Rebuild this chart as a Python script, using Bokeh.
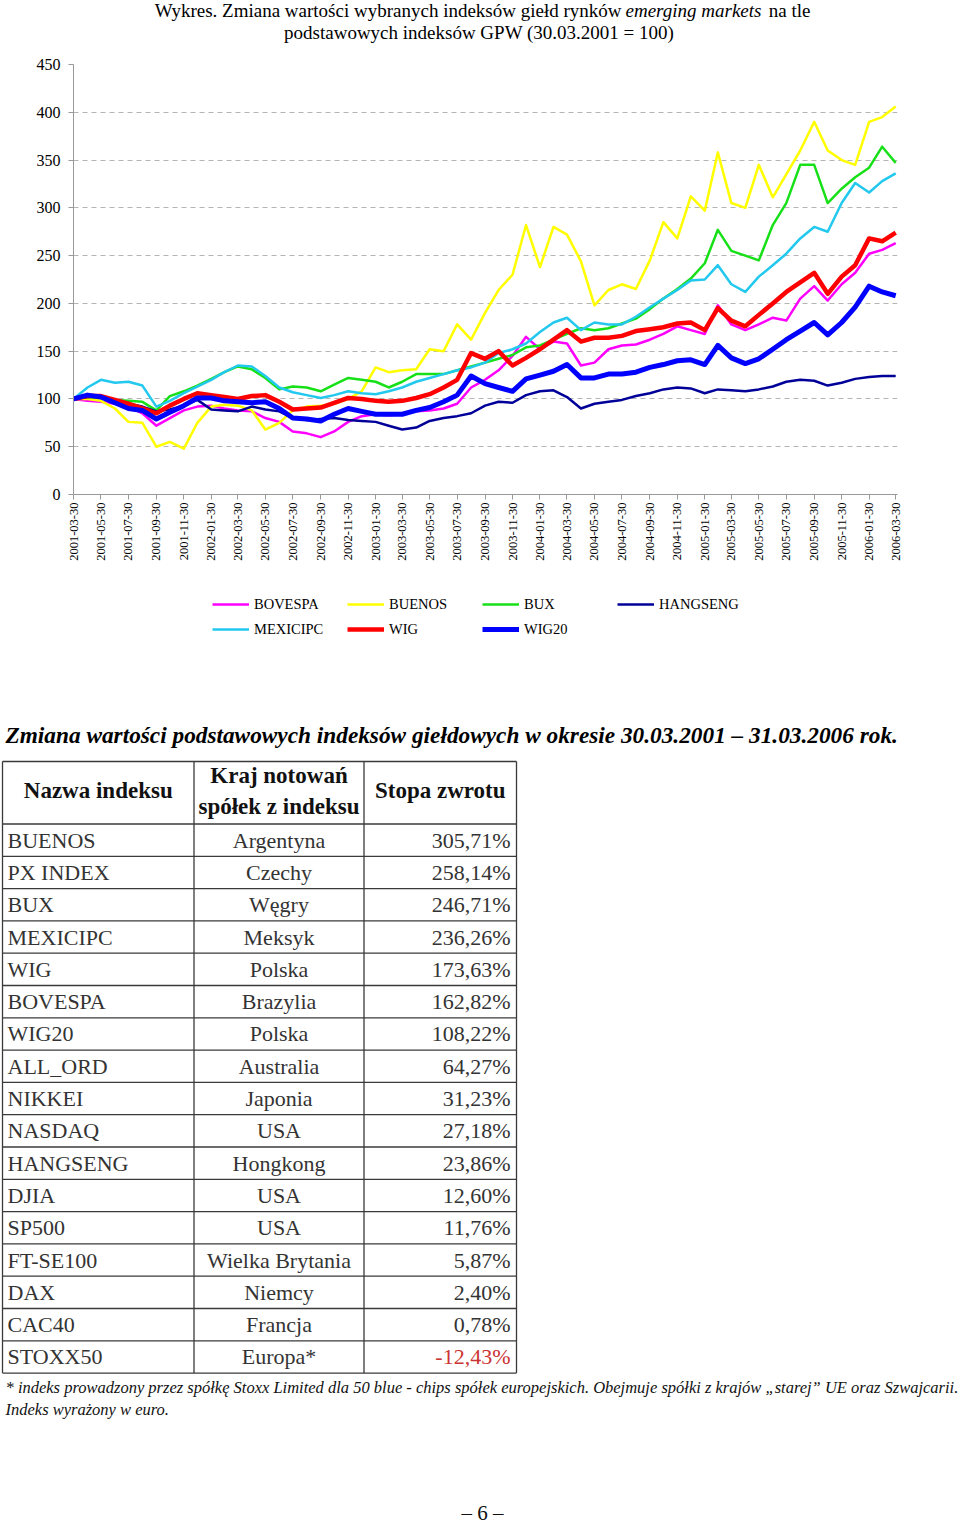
import numpy as np
import pandas as pd
from bokeh.plotting import figure
from bokeh.models import (Range1d, FixedTicker, DatetimeTickFormatter, Legend,
                          LegendItem, ColumnDataSource)
from bokeh.layouts import column
from bokeh.embed import file_html
from bokeh.resources import INLINE
from bokeh.core.properties import value

# ---------------- data ----------------
months = pd.period_range("2001-03", "2006-03", freq="M")
dates = [pd.Timestamp(m.year, m.month, min(30, m.days_in_month)) for m in months]

tick_labels = [
    "2001-03-30", "2001-05-30", "2001-07-30", "2001-09-30", "2001-11-30",
    "2002-01-30", "2002-03-30", "2002-05-30", "2002-07-30", "2002-09-30", "2002-11-30",
    "2003-01-30", "2003-03-30", "2003-05-30", "2003-07-30", "2003-09-30", "2003-11-30",
    "2004-01-30", "2004-03-30", "2004-05-30", "2004-07-30", "2004-09-30", "2004-11-30",
    "2005-01-30", "2005-03-30", "2005-05-30", "2005-07-30", "2005-09-30", "2005-11-30",
    "2006-01-30", "2006-03-30",
]
y_ticks = [0, 50, 100, 150, 200, 250, 300, 350, 400, 450]

bovespa = [100, 98, 97, 95, 92, 85, 72, 80, 88, 92,
           93, 90, 88, 87, 80, 76, 66, 64, 60, 66,
           76, 82, 84, 83, 84, 87, 88, 90, 95, 112,
           120, 130, 145, 165, 152, 160, 158, 135, 138, 152,
           156, 157, 162, 168, 176, 172, 168, 198, 178, 172,
           178, 185, 182, 205, 218, 203, 220, 232, 252, 256,
           263]
buenos = [100, 100, 98, 90, 76, 75, 50, 55, 48, 75,
          92, 94, 93, 88, 68, 75, 88, 92, 93, 95,
          100, 108, 133, 128, 130, 131, 152, 150, 178, 162,
          190, 214, 230, 282, 238, 280, 272, 244, 198, 214,
          220, 215, 245, 285, 268, 312, 297, 358, 305, 300,
          345, 311, 335, 360, 390, 360, 350, 345, 390, 395,
          406]
bux = [100, 102, 101, 99, 98, 97, 88, 103, 108, 114,
       121, 128, 134, 131, 122, 110, 113, 112, 108, 115,
       122, 120, 118, 112, 118, 126, 126, 126, 130, 134,
       138, 142, 146, 154, 156, 162, 168, 174, 172, 174,
       179, 184, 194, 205, 215, 226, 242, 277, 255, 250,
       245, 282, 305, 345, 345, 305, 320, 332, 342, 364,
       347]
hangseng = [100, 102, 103, 98, 95, 92, 87, 89, 93, 99,
            89, 88, 87, 92, 89, 87, 80, 78, 79, 80,
            78, 77, 76, 72, 68, 70, 77, 80, 82, 85,
            93, 97, 96, 104, 108, 109, 102, 90, 95, 97,
            99, 103, 106, 110, 112, 111, 106, 110, 109, 108,
            110, 113, 118, 120, 119, 114, 117, 121, 123, 124,
            124]
mexicipc = [100, 112, 120, 117, 118, 114, 92, 98, 106, 113,
            120, 128, 135, 134, 124, 112, 107, 104, 101, 104,
            108, 106, 105, 108, 112, 118, 122, 126, 130, 133,
            138, 148, 152, 158, 170, 180, 185, 172, 180, 178,
            178, 186, 196, 205, 214, 224, 225, 240, 220, 212,
            228, 240, 252, 268, 280, 275, 305, 326, 316, 328,
            336]
wig = [100, 103, 103, 99, 95, 90, 85, 93, 100, 106,
       104, 102, 100, 103, 104, 97, 89, 90, 91, 96,
       101, 100, 98, 97, 98, 101, 105, 112, 120, 148,
       142, 150, 135, 143, 152, 162, 172, 160, 164, 164,
       166, 171, 173, 175, 179, 180, 172, 195, 182, 176,
       188, 200, 212, 222, 232, 210, 228, 240, 268, 265,
       274]
wig20 = [100, 104, 102, 96, 90, 88, 79, 86, 93, 101,
         101, 98, 97, 96, 97, 90, 80, 79, 77, 84,
         90, 87, 84, 84, 84, 88, 91, 97, 104, 124,
         116, 112, 108, 121, 125, 129, 136, 122, 122, 126,
         126, 128, 133, 136, 140, 141, 136, 156, 143, 137,
         142, 152, 162, 171, 180, 167, 180, 196, 218, 212,
         208]

series_names = ["BOVESPA", "BUENOS", "BUX", "HANGSENG", "MEXICIPC", "WIG", "WIG20"]
series_values = [bovespa, buenos, bux, hangseng, mexicipc, wig, wig20]
series_colors = ["#ff00ff", "#ffff00", "#18e018", "#000099", "#22c8ee", "#ff0000", "#0000ff"]
series_widths = [2.5, 2.5, 2.5, 2.5, 2.5, 4.5, 5]

index_names = ["BUENOS", "PX INDEX", "BUX", "MEXICIPC", "WIG", "BOVESPA", "WIG20",
               "ALL_ORD", "NIKKEI", "NASDAQ", "HANGSENG", "DJIA", "SP500",
               "FT-SE100", "DAX", "CAC40", "STOXX50"]
countries = ["Argentyna", "Czechy", "Węgry", "Meksyk", "Polska", "Brazylia", "Polska",
             "Australia", "Japonia", "USA", "Hongkong", "USA", "USA",
             "Wielka Brytania", "Niemcy", "Francja", "Europa*"]
returns = [305.71, 258.14, 246.71, 236.26, 173.63, 162.82, 108.22, 64.27, 31.23,
           27.18, 23.86, 12.60, 11.76, 5.87, 2.40, 0.78, -12.43]

SERIF = "Liberation Serif"
W = 960


def blank(height, y0, y1):
    f = figure(width=W, height=height, x_range=Range1d(0, W), y_range=Range1d(y1, y0),
               x_axis_type=None, y_axis_type=None, output_backend="svg",
               toolbar_location=None, min_border=0)
    f.outline_line_color = None
    return f


# ---------------- title figure (page y 0..52) ----------------
tf = blank(52, 0, 52)
common = dict(text_font=value(SERIF), text_font_size=value("19px"),
              text_baseline="middle", text_color="#000000")
tf.text(x=[621], y=[9.5], text=["Wykres. Zmiana wartości wybranych indeksów giełd rynków"],
        text_align="right", **common)
tf.text(x=[625], y=[9.5], text=["emerging markets"], text_align="left",
        text_font_style="italic", **common)
tf.text(x=[810], y=[9.5], text=["na tle"], text_align="right", **common)
tf.text(x=[481], y=[31.5], text=["podstawowych indeksów GPW  (30.03.2001 = 100)"],
        text_align="center", **common)

# ---------------- chart figure (page y 52..575) ----------------
p = figure(width=W, height=523, x_axis_type="datetime",
           x_range=Range1d(pd.Timestamp("2001-03-30"), pd.Timestamp("2006-04-03")),
           y_range=Range1d(0, 450), output_backend="svg", toolbar_location=None,
           min_border_left=73, min_border_right=63, min_border_top=12,
           min_border_bottom=81)
p.outline_line_color = None

for name, vals, col, w in zip(series_names, series_values, series_colors, series_widths):
    src = ColumnDataSource(dict(x=dates, y=vals))
    p.line("x", "y", source=src, line_color=col, line_width=w, line_join="round")

tick_ms = [pd.Timestamp(s).value / 1e6 for s in tick_labels]
p.xaxis.ticker = FixedTicker(ticks=tick_ms)
fmt = "%Y-%m-%d"
p.xaxis.formatter = DatetimeTickFormatter(
    microseconds=fmt, milliseconds=fmt, seconds=fmt, minsec=fmt, minutes=fmt,
    hourmin=fmt, hours=fmt, days=fmt, months=fmt, years=fmt)
p.xaxis.major_label_orientation = np.pi / 2
p.xaxis.major_label_text_font = SERIF
p.xaxis.major_label_text_font_size = "12.5px"
p.xaxis.major_label_text_color = "#000000"
p.xaxis.major_label_standoff = 3
p.xaxis.minor_tick_line_color = None
p.xaxis.major_tick_in = 0
p.xaxis.major_tick_out = 5
p.xaxis.axis_line_color = "#999999"
p.xaxis.major_tick_line_color = "#999999"

p.yaxis.ticker = FixedTicker(ticks=y_ticks)
p.yaxis.major_label_text_font = SERIF
p.yaxis.major_label_text_font_size = "16px"
p.yaxis.major_label_text_color = "#000000"
p.yaxis.major_label_standoff = 8
p.yaxis.minor_tick_line_color = None
p.yaxis.major_tick_in = 0
p.yaxis.major_tick_out = 5
p.yaxis.axis_line_color = "#999999"
p.yaxis.major_tick_line_color = "#999999"

p.xgrid.visible = False
p.ygrid.ticker = FixedTicker(ticks=y_ticks[1:])
p.ygrid.grid_line_color = "#b4b4b4"
p.ygrid.grid_line_dash = "5 4"
p.ygrid.grid_line_width = 1

# ---------------- legend figure (page y 575..660) ----------------
lf = blank(85, 0, 85)
leg_items = []
for name, col, w in zip(series_names, series_colors, series_widths):
    # single-point line: draws nothing in the frame, only provides the legend swatch style
    r = lf.line(x=[-50], y=[-50], line_color=col, line_width=w)
    leg_items.append(LegendItem(label=name, renderers=[r]))

leg_style = dict(orientation="horizontal", glyph_width=37, glyph_height=20,
                 label_standoff=5, label_width=93, label_height=20, spacing=0,
                 padding=0, margin=0, border_line_color=None, background_fill_alpha=0,
                 label_text_font=SERIF, label_text_font_size="14.5px",
                 label_text_color="#000000")
leg1 = Legend(items=leg_items[:4], location=(212, 46), **leg_style)
leg2 = Legend(items=leg_items[4:], location=(212, 21), **leg_style)
lf.add_layout(leg1)
lf.add_layout(leg2)

# ---------------- table figure (page y 660..1527) ----------------
t = blank(867, 660, 1527)

t.text(x=[5], y=[734],
       text=["Zmiana wartości podstawowych indeksów giełdowych w okresie 30.03.2001 – 31.03.2006 rok."],
       text_font=value(SERIF), text_font_size=value("23.3px"), text_font_style="bold italic",
       text_align="left", text_baseline="middle", text_color="#000000")

n = len(index_names)
table_top, header_bot, row_h = 761.0, 823.5, 32.3
x_left, x_c1, x_c2, x_right = 2.0, 193.5, 363.5, 516.0
row_bounds = header_bot + np.arange(n + 1) * row_h
centers = header_bot + (np.arange(n) + 0.5) * row_h
table_bot = row_bounds[-1]

hy = np.concatenate([[table_top], row_bounds])
t.segment(x0=[x_left] * len(hy), x1=[x_right] * len(hy), y0=hy, y1=hy,
          line_color="#3a3a3a", line_width=1.3)
vx = [x_left, x_c1, x_c2, x_right]
t.segment(x0=vx, x1=vx, y0=[table_top] * 4, y1=[table_bot] * 4,
          line_color="#3a3a3a", line_width=1.3)

hdr = dict(text_font=value(SERIF), text_font_size=value("23px"), text_font_style="bold",
           text_baseline="middle", text_color="#111111", text_align="center")
t.text(x=[(x_left + x_c1) / 2], y=[790], text=["Nazwa indeksu"], **hdr)
t.text(x=[(x_c1 + x_c2) / 2], y=[775], text=["Kraj notowań"], **hdr)
t.text(x=[(x_c1 + x_c2) / 2], y=[806], text=["spółek z indeksu"], **hdr)
t.text(x=[(x_c2 + x_right) / 2], y=[790], text=["Stopa zwrotu"], **hdr)

ret_txt = [f"{v:.2f}".replace(".", ",") + "%" for v in returns]
ret_col = ["#cc3333" if v < 0 else "#333333" for v in returns]
tsrc = ColumnDataSource(dict(y=centers, name=index_names, country=countries,
                             ret=ret_txt, col=ret_col,
                             x1=[x_left + 5] * n, x2=[(x_c1 + x_c2) / 2] * n,
                             x3=[x_right - 6] * n))
body = dict(text_font=value(SERIF), text_font_size=value("22px"), text_baseline="middle")
t.text(x="x1", y="y", text="name", source=tsrc, text_align="left", text_color="#333333", **body)
t.text(x="x2", y="y", text="country", source=tsrc, text_align="center", text_color="#333333", **body)
t.text(x="x3", y="y", text="ret", source=tsrc, text_align="right", text_color="col", **body)

foot = dict(text_font=value(SERIF), text_font_size=value("16.5px"), text_font_style="italic",
            text_baseline="middle", text_color="#111111", text_align="left")
t.text(x=[5], y=[1387],
       text=["* indeks prowadzony przez spółkę Stoxx Limited dla 50 blue - chips spółek europejskich. "
             "Obejmuje spółki z krajów „starej” UE oraz Szwajcarii."], **foot)
t.text(x=[5], y=[1409], text=["Indeks wyrażony w euro."], **foot)

t.text(x=[482], y=[1512], text=["– 6 –"], text_font=value(SERIF),
       text_font_size=value("21px"), text_align="center", text_baseline="middle",
       text_color="#111111")

figs = [tf, p, lf, t]
for f in figs:
    try:
        f.frame_align = False
    except Exception:
        pass

layout = column(*figs, spacing=0)
open("out.html", "w").write(file_html(layout, INLINE))
